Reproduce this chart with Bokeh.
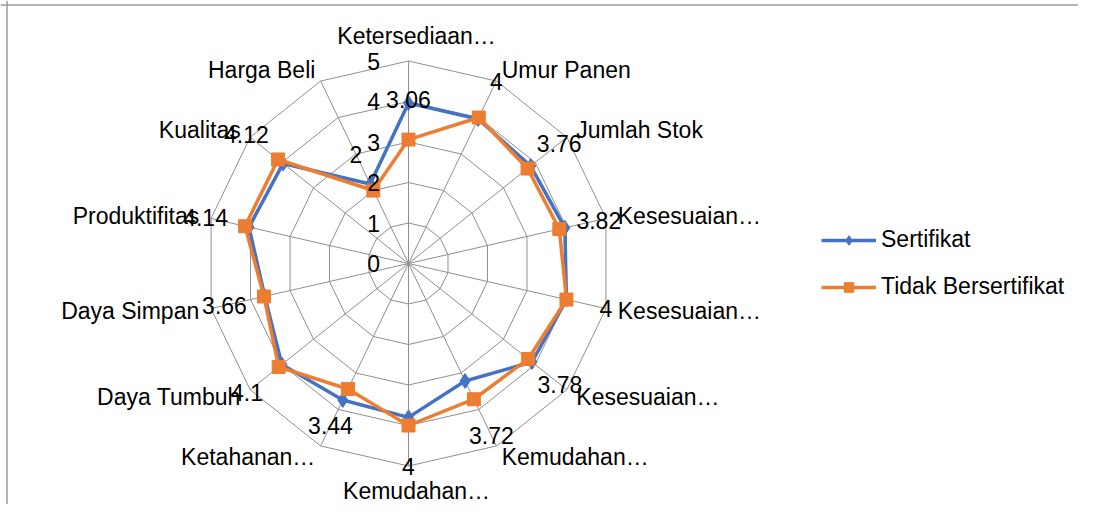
import math
from bokeh.plotting import figure
from bokeh.models import Range1d, Legend, LegendItem, ColumnDataSource, Span
from bokeh.core.properties import value
from bokeh.embed import file_html
from bokeh.resources import INLINE

# ---------------- data ----------------
categories = ["Ketersediaan…", "Umur Panen", "Jumlah Stok", "Kesesuaian…",
              "Kesesuaian…", "Kesesuaian…", "Kemudahan…", "Kemudahan…",
              "Ketahanan…", "Daya Tumbuh", "Daya Simpan", "Produktifitas",
              "Kualitas", "Harga Beli"]
sertifikat = [3.96, 3.96, 3.86, 3.96, 4.0, 3.9, 3.22, 3.8, 3.74, 4.0, 3.64, 4.04, 3.96, 2.18]
tidak_bersertifikat = [3.06, 4.0, 3.76, 3.82, 4.0, 3.78, 3.72, 4.0, 3.44, 4.1, 3.66, 4.14, 4.12, 2.0]
tick_values = [0, 1, 2, 3, 4, 5]
tick_labels = ["0", "1", "2", "3", "4", "5"]
series_names = ["Sertifikat", "Tidak Bersertifikat"]

# ---------------- style ----------------
FONT = "Liberation Sans"
FS = "23px"
BLUE = "#4472C4"
ORANGE = "#ED7D31"
GRID = "#8f8f8f"
W, H = 1078, 504
U = 40.5            # px per value unit
CX, CY = 408, 263   # centre in figure px (from top-left)
RMAX = tick_values[-1]

n = len(categories)
ang = [2 * math.pi * i / n for i in range(n)]

def pol(r, a):
    return r * math.sin(a), r * math.cos(a)

p = figure(width=W, height=H, output_backend="svg", toolbar_location=None,
           x_range=Range1d(-CX / U, (W - CX) / U),
           y_range=Range1d(-(H - CY) / U, CY / U),
           min_border=0, outline_line_color=None)
p.axis.visible = False
p.grid.visible = False
p.background_fill_color = "white"

# rings
rx, ry = [], []
for t in tick_values[1:]:
    pts = [pol(t, a) for a in ang] + [pol(t, ang[0])]
    rx.append([q[0] for q in pts]); ry.append([q[1] for q in pts])
p.multi_line(rx, ry, line_color=GRID, line_width=1)
# spokes
ends = [pol(RMAX, a) for a in ang]
p.segment([0] * n, [0] * n, [e[0] for e in ends], [e[1] for e in ends], line_color=GRID, line_width=1)

# series
def closed(vals):
    pts = [pol(v, a) for v, a in zip(vals, ang)]
    xs = [q[0] for q in pts]; ys = [q[1] for q in pts]
    return xs + [xs[0]], ys + [ys[0]], xs, ys

bx, by, bpx, bpy = closed(sertifikat)
ox, oy, opx, opy = closed(tidak_bersertifikat)
bl = p.line(bx, by, line_color=BLUE, line_width=3.5)
bs = p.scatter(bpx, bpy, marker="diamond", size=15, fill_color=BLUE, line_color=BLUE)
ol = p.line(ox, oy, line_color=ORANGE, line_width=3.5)
osq = p.scatter(opx, opy, marker="square", size=13, fill_color=ORANGE, line_color=ORANGE)

# tick labels on vertical axis
p.text(x=[-0.86] * len(tick_values), y=tick_values, text=tick_labels,
       text_font=value(FONT), text_font_size=FS, text_color="black",
       text_align="center", text_baseline="middle")

# data labels (Tidak Bersertifikat) one unit outward from the point
dl = [pol(v + 1, a) for v, a in zip(tidak_bersertifikat, ang)]
p.text(x=[q[0] for q in dl], y=[q[1] for q in dl],
       text=["{:g}".format(v) for v in tidak_bersertifikat],
       text_font=value(FONT), text_font_size=FS, text_color="black",
       text_align="center", text_baseline="middle")

# category labels
lx, ly, la, lb = [], [], [], []
for a in ang:
    s, c = math.sin(a), math.cos(a)
    if abs(s) < 0.01:
        x, y = pol(RMAX + 0.3, a)
        x += 0.2
        la.append("center"); lb.append("bottom" if c > 0 else "top")
    else:
        x0, y0 = pol(RMAX, a)
        x, y = x0 + 0.3 * s, y0 + 0.3 * c
        la.append("left" if s > 0 else "right"); lb.append("middle")
    lx.append(x); ly.append(y)
src = ColumnDataSource(dict(x=lx, y=ly, t=categories, a=la, b=lb))
p.text(x="x", y="y", text="t", text_align="a", text_baseline="b", source=src,
       text_font=value(FONT), text_font_size=FS, text_color="black")

# chart border (top and left visible)
p.add_layout(Span(location=p.x_range.start + 6.5 / U, dimension="height", line_color="#9a9a9a", line_width=1.5))
p.add_layout(Span(location=p.y_range.end - 4.5 / U, dimension="width", line_color="#9a9a9a", line_width=1.5))

legend = Legend(items=[LegendItem(label=series_names[0], renderers=[bl, bs]),
                       LegendItem(label=series_names[1], renderers=[ol, osq])],
                location=(821, 204), orientation="vertical",
                label_text_font=FONT, label_text_font_size=FS, label_text_color="black",
                glyph_width=55, glyph_height=24, label_height=24,
                spacing=20, padding=0, margin=0, label_standoff=5,
                border_line_color=None, background_fill_alpha=0)
p.add_layout(legend)

open("out.html", "w").write(file_html(p, INLINE))
